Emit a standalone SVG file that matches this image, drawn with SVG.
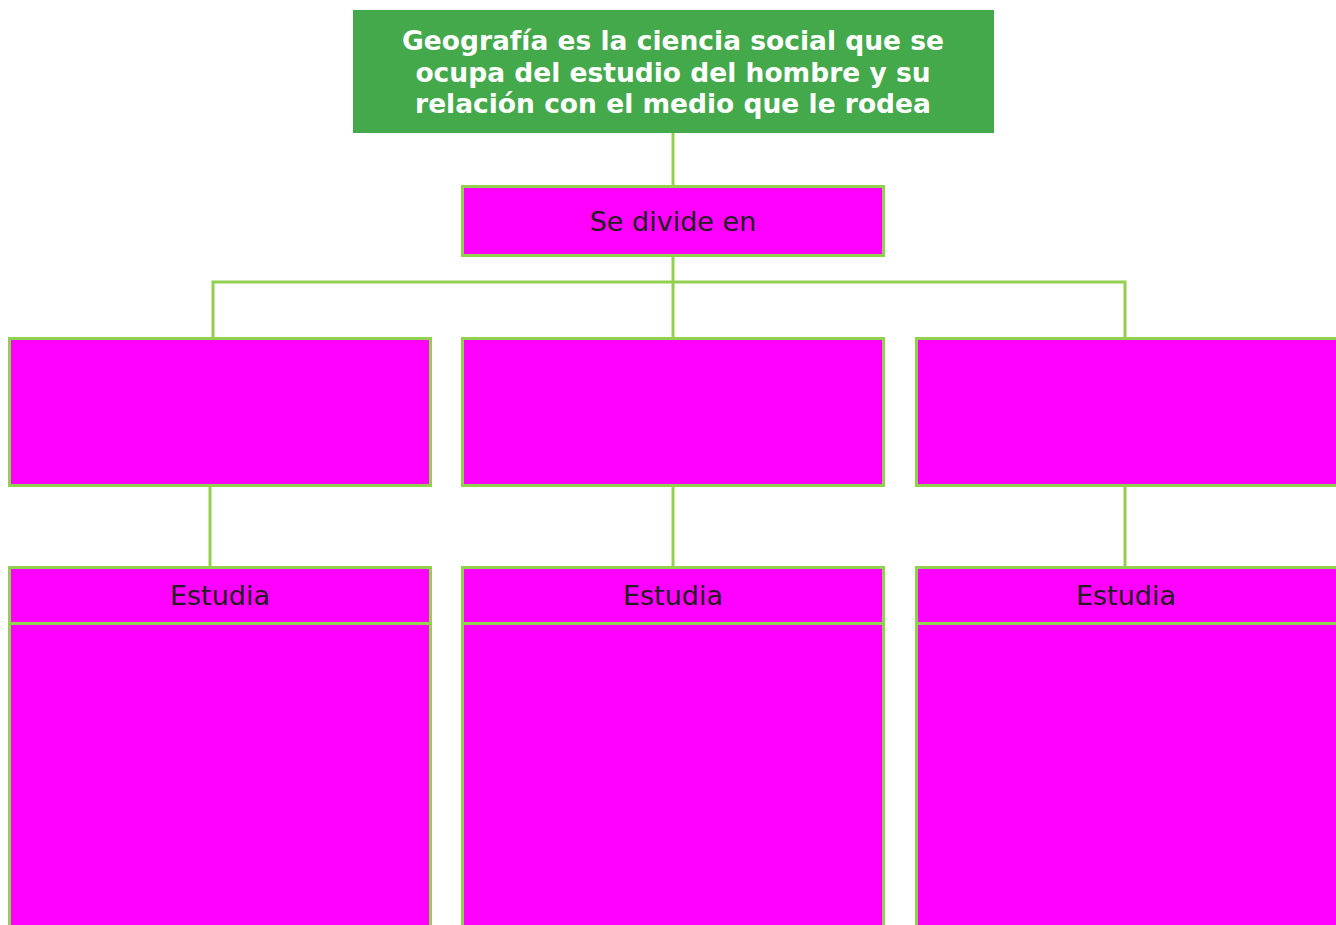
<svg xmlns="http://www.w3.org/2000/svg" width="1336" height="925" viewBox="0 0 1336 925">
<style>
.box{fill:#ff00ff;stroke:#92d050;stroke-width:3}
.conn{fill:none;stroke:#92d050;stroke-width:3}
.lbl{font-family:"DejaVu Sans",Verdana,sans-serif;font-size:27px;fill:#231f20;text-anchor:middle}
.title{font-family:"DejaVu Sans",Verdana,sans-serif;font-size:26.5px;font-weight:bold;fill:#ffffff;text-anchor:middle}
</style>
<rect width="1336" height="925" fill="#ffffff"/>
<g id="connectors">
<line class="conn" x1="673" y1="133" x2="673" y2="186"/>
<line class="conn" x1="673" y1="256" x2="673" y2="338"/>
<polyline class="conn" points="213,338 213,282 1125,282 1125,338"/>
<line class="conn" x1="210" y1="486" x2="210" y2="567"/>
<line class="conn" x1="673" y1="486" x2="673" y2="567"/>
<line class="conn" x1="1125" y1="486" x2="1125" y2="567"/>
</g>
<g id="root">
<rect x="353" y="10" width="641" height="123" fill="#43a94b"/>
<text class="title" x="673" y="50">Geografía es la ciencia social que se</text>
<text class="title" x="673" y="82">ocupa del estudio del hombre y su</text>
<text class="title" x="673" y="113">relación con el medio que le rodea</text>
</g>
<g id="divide">
<rect class="box" x="462.5" y="186.5" width="421" height="69"/>
<text class="lbl" x="673" y="231">Se divide en</text>
</g>
<g id="branch1"><rect class="box" x="9.5" y="338.5" width="421" height="147"/></g>
<g id="branch2"><rect class="box" x="462.5" y="338.5" width="421" height="147"/></g>
<g id="branch3"><rect class="box" x="916.5" y="338.5" width="421" height="147"/></g>
<g id="study1">
<rect class="box" x="9.5" y="567.5" width="421" height="56"/>
<text class="lbl" x="220" y="605">Estudia</text>
<rect class="box" x="9.5" y="623.5" width="421" height="310"/>
</g>
<g id="study2">
<rect class="box" x="462.5" y="567.5" width="421" height="56"/>
<text class="lbl" x="673" y="605">Estudia</text>
<rect class="box" x="462.5" y="623.5" width="421" height="310"/>
</g>
<g id="study3">
<rect class="box" x="916.5" y="567.5" width="421" height="56"/>
<text class="lbl" x="1126" y="605">Estudia</text>
<rect class="box" x="916.5" y="623.5" width="421" height="310"/>
</g>
</svg>
